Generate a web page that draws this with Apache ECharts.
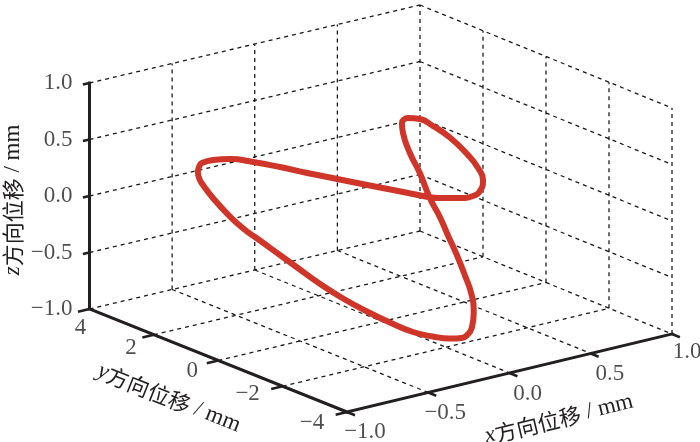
<!DOCTYPE html>
<html>
<head>
<meta charset="utf-8">
<style>
html, body { margin: 0; padding: 0; background: #fff; }
#main { width: 700px; height: 442px; }
</style>
<script src="https://cdn.jsdelivr.net/npm/echarts@6/dist/echarts.min.js"></script>
</head>
<body>
<div id="main"></div>
<script>
// axis ticks
var xTicks = [-1, -0.5, 0, 0.5, 1];
var yTicks = [4, 2, 0, -2, -4];
var zTicks = [-1, -0.5, 0, 0.5, 1];
var xTickLabels = ['\u22121.0', '\u22120.5', '0.0', '0.5', '1.0'];
var yTickLabels = ['4', '2', '0', '\u22122', '\u22124'];
var zTickLabels = ['\u22121.0', '\u22120.5', '0.0', '0.5', '1.0'];

// displacement curve (mm)
var curveX = [0.222, 0.067, -0.033, -0.138, -0.243, -0.330, -0.416, -0.498, -0.563, -0.611, -0.626, -0.635, -0.627, -0.614, -0.583, -0.518, -0.465, -0.431, -0.392, -0.343, -0.300, -0.258, -0.209, -0.166, -0.123, -0.079, -0.015, 0.039, 0.066, 0.081, 0.093, 0.100, 0.077, 0.048, 0.012, -0.017, -0.059, -0.081, -0.103, -0.106, -0.093, -0.071, -0.037, 0.056, 0.155, 0.278, 0.402, 0.479, 0.519, 0.510, 0.472, 0.402, 0.286, 0.222];
var curveY = [-0.3, 0, 0.3, 0.7, 1.1, 1.5, 1.9, 2.2, 2.4, 2.5, 2.5, 2.5, 2.48, 2.45, 2.3, 2.1, 1.9, 1.7, 1.4, 0.9, 0.4, -0.1, -0.6, -1.1, -1.6, -2.0, -2.2, -2.3, -2.35, -2.4, -2.4, -2.3, -2.2, -2.1, -2.0, -1.9, -1.8, -1.6, -1.4, -1.2, -1.1, -1.05, -1.0, -0.9, -0.8, -0.7, -0.6, -0.55, -0.5, -0.47, -0.43, -0.38, -0.35, -0.3];
var curveZ = [0.059, 0.141, 0.185, 0.229, 0.273, 0.310, 0.339, 0.359, 0.350, 0.329, 0.307, 0.257, 0.186, 0.141, 0.032, -0.132, -0.246, -0.310, -0.392, -0.506, -0.610, -0.696, -0.771, -0.827, -0.868, -0.878, -0.895, -0.897, -0.870, -0.812, -0.683, -0.538, -0.364, -0.189, -0.011, 0.147, 0.318, 0.524, 0.686, 0.841, 0.914, 0.932, 0.928, 0.875, 0.768, 0.612, 0.412, 0.256, 0.130, 0.041, -0.003, -0.003, 0.034, 0.059];

// view: where the floor corners land on the page, and pixels per unit of z
var floorLeft = [89.5, 309], floorFront = [347, 412], floorRight = [672, 334], floorBack = [420, 231];
var zUnit = 113;

function project(x, y, z) {
	var u = (x + 1) / 2, v = (4 - y) / 8;
	var px = (1 - u) * (1 - v) * floorLeft[0] + (1 - u) * v * floorFront[0] + u * v * floorRight[0] + u * (1 - v) * floorBack[0];
	var py = (1 - u) * (1 - v) * floorLeft[1] + (1 - u) * v * floorFront[1] + u * v * floorRight[1] + u * (1 - v) * floorBack[1];
	return [px, py - (z + 1) * zUnit];
}

// segments for one line series, split by nulls
function addSeg(list, a, b) {
	list.push(project(a[0], a[1], a[2]), project(b[0], b[1], b[2]), [null, null]);
}

var gridSegs = [];
var axisSegs = [];
var tickSegs = [];

xTicks.forEach(function(x, i) {
	addSeg(gridSegs, [x, 4, -1], [x, -4, -1]);
	if (i > 0) addSeg(gridSegs, [x, 4, -1], [x, 4, 1]);
	addSeg(tickSegs, [x, -4, -1], [x, -4.25, -1]);
});
yTicks.forEach(function(y) {
	addSeg(gridSegs, [-1, y, -1], [1, y, -1]);
	addSeg(gridSegs, [1, y, -1], [1, y, 1]);
	addSeg(tickSegs, [-1, y, -1], [-1.07, y, -1]);
});
zTicks.forEach(function(z) {
	addSeg(gridSegs, [-1, 4, z], [1, 4, z]);
	addSeg(gridSegs, [1, 4, z], [1, -4, z]);
	addSeg(tickSegs, [-1, 4, z], [-1.04, 4, z]);
});
addSeg(axisSegs, [-1, 4, -1], [-1, 4, 1]);
addSeg(axisSegs, [-1, 4, -1], [-1, -4, -1]);
addSeg(axisSegs, [-1, -4, -1], [1, -4, -1]);

var curve = curveX.map(function(x, i) {
	return project(x, curveY[i], curveZ[i]);
});

// label offsets from the tick they belong to
var xLabelOffsets = [[18, 20], [17, 20], [18, 21], [19, 20], [15, 18]];
var yLabelOffsets = [[-9, 19], [-23, 13], [-26, 10], [-35, 8], [-35, 11]];

var labelFont = { fontFamily: 'Liberation Serif', fontSize: 23, color: '#231f20' };

function tickLabelSeries(points, names, offsets, align) {
	return {
		type: 'scatter',
		symbolSize: 0,
		silent: true,
		z: 5,
		data: points.map(function(p, i) {
			return {
				value: p,
				name: names[i],
				label: {
					show: true,
					position: 'inside',
					formatter: '{b}',
					offset: offsets[i],
					align: align,
					verticalAlign: 'middle',
					fontFamily: labelFont.fontFamily,
					fontSize: labelFont.fontSize,
					color: labelFont.color
				}
			};
		})
	};
}

function axisTitle(letter, cx, cy, angle) {
	return {
		type: 'text',
		x: cx,
		y: cy,
		rotation: angle * Math.PI / 180,
		silent: true,
		style: {
			text: '{i|' + letter + '}{c|方向位移}{u| / mm}',
			align: 'center',
			verticalAlign: 'middle',
			rich: {
				i: { fontFamily: 'Liberation Serif', fontStyle: 'italic', fontSize: 23, fill: '#231f20' },
				c: { fontFamily: 'Noto Sans CJK SC', fontSize: 22, fill: '#231f20' },
				u: { fontFamily: 'Liberation Serif', fontSize: 23, fill: '#231f20' }
			}
		}
	};
}

var chart = echarts.init(document.getElementById('main'));
chart.setOption({
	animation: false,
	backgroundColor: '#fff',
	grid: { left: 0, right: 0, top: 0, bottom: 0 },
	xAxis: { type: 'value', min: 0, max: 700, show: false },
	yAxis: { type: 'value', min: 0, max: 442, inverse: true, show: false },
	series: [
		{
			type: 'line',
			data: gridSegs,
			showSymbol: false,
			silent: true,
			z: 1,
			lineStyle: { color: '#1a1a1a', width: 1.3, type: [4, 4] }
		},
		{
			type: 'line',
			data: tickSegs,
			showSymbol: false,
			silent: true,
			z: 3,
			lineStyle: { color: '#231f20', width: 2.5 }
		},
		{
			type: 'line',
			data: axisSegs,
			showSymbol: false,
			silent: true,
			z: 3,
			lineStyle: { color: '#231f20', width: 3, cap: 'square' }
		},
		{
			type: 'line',
			data: curve,
			showSymbol: false,
			smooth: 0.5,
			silent: true,
			z: 4,
			lineStyle: { color: '#cf3529', width: 6, cap: 'round', join: 'round' }
		},
		tickLabelSeries(xTicks.map(function(x) { return project(x, -4, -1); }), xTickLabels, xLabelOffsets, 'center'),
		tickLabelSeries(yTicks.map(function(y) { return project(-1, y, -1); }), yTickLabels, yLabelOffsets, 'center'),
		tickLabelSeries(zTicks.map(function(z) { return project(-1, 4, z); }), zTickLabels, zTicks.map(function() { return [-17, 0]; }), 'right')
	],
	graphic: [
		axisTitle('z', 13, 200, 90),
		axisTitle('y', 169, 398, -21.8),
		axisTitle('x', 559, 419, 13.5)
	]
});
</script>
</body>
</html>
